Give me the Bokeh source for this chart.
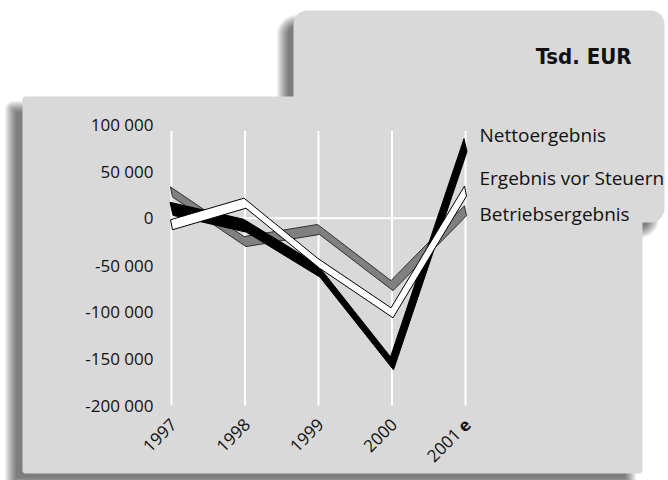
import math
from bokeh.plotting import figure
from bokeh.models import Range1d, ColumnDataSource
from bokeh.core.properties import value
from bokeh.embed import file_html
from bokeh.resources import INLINE

# ---------------- data ----------------
years = ["1997", "1998", "1999", "2000", "2001"]
estimate_mark = "e"
netto = [10000, -8000, -56000, -155000, 78000]          # Nettoergebnis
vor_steuern = [-7000, 16000, -48000, -101000, 29000]    # Ergebnis vor Steuern
betrieb = [28000, -25000, -12000, -72000, 8000]         # Betriebsergebnis
series_names = ["Nettoergebnis", "Ergebnis vor Steuern", "Betriebsergebnis"]
y_ticks = [100000, 50000, 0, -50000, -100000, -150000, -200000]
title_text = "Tsd. EUR"

# ---------------- layout constants ----------------
W, H = 668, 480
X0_PX, DX_PX = 171.0, 73.5      # pixel of first category, pixels per category
Y0_PX, KY = 217.7, 0.0009367    # pixel of zero, pixels per unit
GRID_TOP = 93000

idx = list(range(len(years)))

p = figure(width=W, height=H, output_backend="svg", toolbar_location=None,
           x_axis_location=None, y_axis_location=None, min_border=0,
           x_range=Range1d(-X0_PX / DX_PX, (W - X0_PX) / DX_PX),
           y_range=Range1d(-(H - Y0_PX) / KY, Y0_PX / KY))
p.extra_x_ranges = {"px": Range1d(0, W)}
p.extra_y_ranges = {"py": Range1d(H, 0)}
p.outline_line_color = None
p.background_fill_color = "white"
p.border_fill_color = "white"
for g in p.grid:
    g.visible = False

PX = dict(x_range_name="px", y_range_name="py")


def rrect(x0, y0, x1, y1, r, n=8):
    r = max(r, 0.0)
    xs, ys = [], []
    for cx, cy, a0 in [(x0 + r, y0 + r, 180), (x1 - r, y0 + r, 270),
                       (x1 - r, y1 - r, 0), (x0 + r, y1 - r, 90)]:
        for k in range(n + 1):
            t = math.radians(a0 + 90 * k / n)
            xs.append(cx + r * math.cos(t))
            ys.append(cy + r * math.sin(t))
    return xs, ys


def shadow(x0, y0, x1, y1, r, dx, dy, blur, total, n=10):
    a = 1 - (1 - total) ** (1.0 / n)
    XS, YS = [], []
    for k in range(n):
        e = blur - 2 * blur * (k + 0.5) / n
        xs, ys = rrect(x0 + dx - e, y0 + dy - e, x1 + dx + e, y1 + dy + e, r + e)
        XS.append(xs)
        YS.append(ys)
    p.patches(XS, YS, fill_color="black", fill_alpha=a, line_color=None, **PX)


PANEL = "#d9d9d9"
# back panel (title box)
BX0, BY0, BX1, BY1 = 293, 10, 664, 222
shadow(BX0, BY0, BX1, BY1, 14, -11, 10, 6, 0.5)
xs, ys = rrect(BX0, BY0, BX1, BY1, 14)
p.patch(xs, ys, fill_color=PANEL, line_color=None, **PX)

# main panel
MX0, MY0, MX1, MY1 = 22, 96, 642, 473
shadow(MX0, MY0, MX1, MY1, 3, -12, 10, 6, 0.5)
xs, ys = rrect(MX0, MY0, MX1, MY1, 3)
p.patch(xs, ys, fill_color=PANEL, line_color=None, **PX)

# title
p.text(x=[631], y=[56], text=[title_text], text_align="right", text_baseline="middle",
       text_font=value("DejaVu Sans Condensed"), text_font_style="bold",
       text_font_size="22px", text_color="#111111", **PX)

# grid lines
p.segment(x0=idx, y0=[y_ticks[-1]] * len(idx), x1=idx, y1=[GRID_TOP] * len(idx),
          line_color="white", line_width=2)
p.segment(x0=[idx[0]], y0=[0], x1=[idx[-1]], y1=[0], line_color="white", line_width=2)


def ribbon(vals, ex_px, ey_px):
    exu, eyu = ex_px / DX_PX, ey_px / KY
    xt = [i - exu / 2 for i in idx]
    yt = [v + eyu / 2 for v in vals]
    xb = [i + exu / 2 for i in idx]
    yb = [v - eyu / 2 for v in vals]
    return xt + xb[::-1], yt + yb[::-1]


xs, ys = ribbon(betrieb, 2, 10)
p.patch(xs, ys, fill_color="#808080", line_color="#303030", line_width=1)
xs, ys = ribbon(netto, 3, 13)
p.patch(xs, ys, fill_color="black", line_color="black", line_width=1)
xs, ys = ribbon(vor_steuern, 2, 10)
p.patch(xs, ys, fill_color="white", line_color="black", line_width=1)

# y tick labels
ysrc = ColumnDataSource(dict(
    x=[idx[0] - 18 / DX_PX] * len(y_ticks), y=y_ticks,
    t=[f"{v:,}".replace(",", " ") for v in y_ticks]))
p.text(x="x", y="y", text="t", source=ysrc, text_align="right", text_baseline="middle",
       text_font=value("Open Sans"), text_font_size="17px", text_color="#111111")

# x tick labels (rotated)
ang = math.pi / 4
lab_y = y_ticks[-1] - 16 / KY
xl = [i + 2 / DX_PX for i in idx]
main_labels = years[:-1]
p.text(x=xl[:-1], y=[lab_y] * (len(idx) - 1), text=main_labels, angle=ang,
       text_align="right", text_baseline="middle",
       text_font=value("Open Sans"), text_font_size="17px", text_color="#111111")
# last (estimated) year: "2001" + bold "e"
p.text(x=[xl[-1]], y=[lab_y], text=[estimate_mark], angle=ang,
       text_align="right", text_baseline="middle", text_font_style="bold",
       text_font=value("Open Sans"), text_font_size="17px", text_color="#111111")
shift = 14.0 / math.sqrt(2)
p.text(x=[xl[-1] - shift / DX_PX], y=[lab_y - shift / KY], text=[years[-1]], angle=ang,
       text_align="right", text_baseline="middle",
       text_font=value("Open Sans"), text_font_size="17px", text_color="#111111")

# series labels
p.text(x=[479] * 3, y=[134, 177, 213], text=series_names, text_align="left",
       text_baseline="middle", text_font=value("Open Sans"), text_font_size="19px",
       text_color="#111111", **PX)

open("out.html", "w").write(file_html(p, INLINE))
